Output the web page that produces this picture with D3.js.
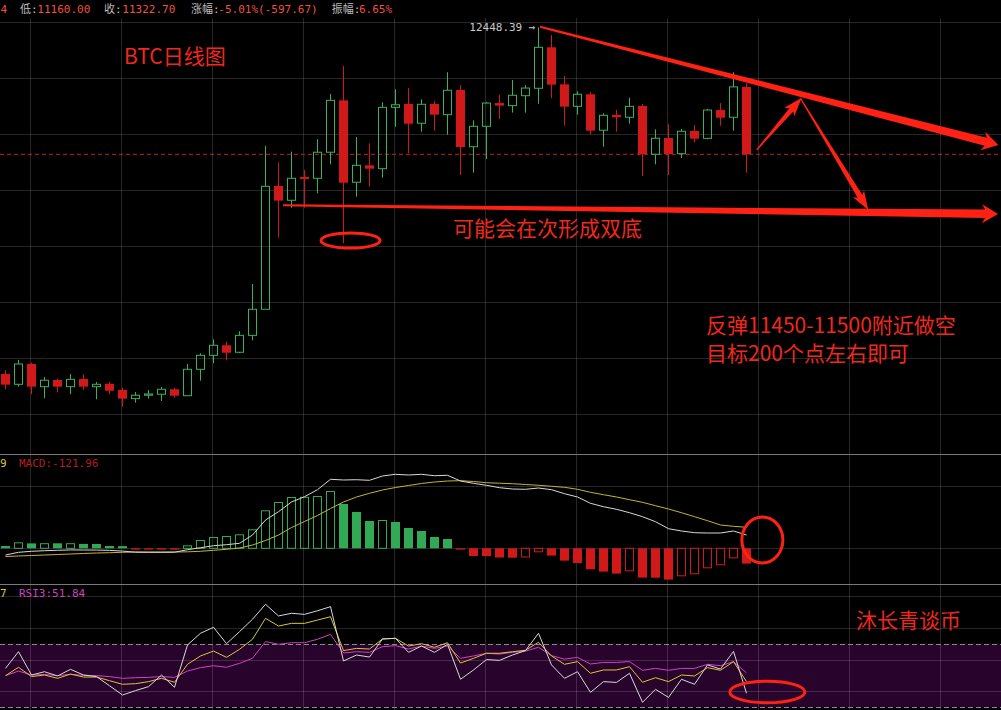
<!DOCTYPE html>
<html><head><meta charset="utf-8">
<script src="https://cdn.jsdelivr.net/npm/d3@7/dist/d3.min.js"></script>
<style>html,body{margin:0;padding:0;background:#000;overflow:hidden}</style>
</head><body>
<svg id="c" width="1001" height="710" xmlns="http://www.w3.org/2000/svg"></svg>
<script>
// ---------- DATA ----------
const opens  = [9375,9284,9464,9263,9322,9263,9331,9263,9289,9234,9157,9187,9196,9240,9183,9417,9541,9630,9568,9718,9949,11042,10915,11122,11110,11341,11801,11075,11225,11195,11739,11769,11598,11769,11674,11893,11390,11571,11777,11754,11842,11908,12271,11943,11748,11855,11536,11671,11651,11751,11323,11467,11328,11529,11464,11715,11651,11920.37];
const highs  = [9408,9500,9476,9349,9334,9375,9372,9305,9305,9254,9216,9234,9260,9251,9464,9559,9683,9662,9754,10173,11396,11248,11346,11184,11456,11857,12105,11476,11420,11784,11899,11910,11810,11795,12050,11937,11624,11786,11851,11981,11937,12448.39,12380,12017,11881,11875,11686,11718,11824,11768,11544,11589,11547,11582,11724,11777,12050,11952.7];
const lows   = [9240,9263,9196,9160,9213,9196,9234,9151,9196,9086,9121,9157,9136,9165,9183,9316,9470,9497,9559,9674,9949,10587,10849,10849,10977,11234,10534,10947,11036,11115,11567,11332,11523,11532,11497,11139,11160,11281,11636,11692,11692,11771,11819,11576,11674,11500,11390,11523,11594,11130,11234,11139,11290,11429,11455,11576,11532,11160];
const closes = [9281,9464,9263,9320,9263,9328,9263,9284,9227,9157,9187,9198,9240,9183,9417,9541,9630,9564,9718,9949,11039,10912,11110,11104,11341,11801,11071,11225,11195,11739,11762,11594,11766,11674,11890,11387,11571,11777,11754,11846,11910,12271,11940,11745,11855,11532,11668,11651,11748,11323,11465,11325,11527,11461,11715,11647,11920.37,11322.7];

const dif  = [-53.4,-31.9,-23.9,-19.1,-15.9,-13.0,-13.5,-14.0,-16.5,-22.0,-31.0,-32.0,-32.0,-31.0,-11.2,4.8,20.7,28.7,39.9,106.0,225.6,291.7,369.0,411.3,467.0,549.9,544.4,546.7,542.0,576.2,589.8,584.2,589.8,578.6,581.8,536.4,518.1,502.1,483.0,472.6,470.2,480.6,467.0,435.2,408.9,358.7,331.6,310.8,283.7,251.9,212.0,156.2,137.9,124.3,121.9,121.9,137.9,106.0];
const dea  = [-65.4,-61.4,-57.4,-53.4,-49.4,-45.4,-41.4,-37.5,-35.1,-31.9,-29.5,-29.5,-29.5,-29.5,-27.9,-23.9,-15.9,-8.0,2.4,26.3,62.2,106.0,165.8,213.6,261.4,317.2,369.0,408.9,438.4,464.7,484.6,500.5,516.5,528.4,536.4,538.8,532.4,522.8,518.8,514.9,508.5,502.1,494.1,486.2,470.2,446.3,427.2,408.9,387.3,366.6,339.5,313.2,283.7,251.9,220.0,185.7,175.3,167.4];
const macd = [18.3,47.8,39.1,40.6,39.9,40.6,35.1,34.3,18.3,17.5,-10.4,-10.6,-10.8,-11.0,23.9,66.2,90.1,98.0,111.6,151.4,302.9,369.0,408.9,410.5,416.8,456.7,353.1,289.3,217.6,225.6,209.6,161.8,137.9,90.1,74.1,-10.4,-61.4,-62.2,-73.3,-74.9,-73.3,-31.9,-58.2,-98.0,-117.2,-167.4,-185.7,-201.6,-183.3,-233.5,-234.3,-249.5,-223.2,-207.2,-159.4,-135.5,-79.7,-121.96];

const rsi1 = [54.7,65.3,50.5,52.6,49.9,54.1,50.5,49.5,43.7,37.8,40.6,43.1,50.5,42.7,69.6,77.0,80.8,70.4,78.0,85.9,95.4,88.0,89.7,89.0,91.3,93.9,59.4,63.2,61.9,73.4,73.8,64.9,68.9,64.9,70.0,47.8,53.7,60.3,59.8,63.2,66.0,77.0,56.9,48.4,52.6,39.5,46.3,45.8,51.6,33.2,41.4,36.3,47.8,44.6,56.9,54.3,65.5,38.9];
const rsi2 = [50.1,55.4,49.5,50.5,48.4,51.1,49.2,49.2,46.9,44.6,45.0,46.3,48.4,45.9,57.3,62.6,65.7,61.7,66.8,73.2,86.5,81.6,83.3,83.3,85.4,87.5,66.0,67.4,67.0,73.4,73.8,68.9,70.4,68.1,71.0,58.1,61.1,64.3,64.3,65.3,66.2,71.3,62.6,57.3,59.0,51.6,53.7,53.7,55.8,45.9,48.8,46.3,50.5,49.9,55.2,53.5,59.0,46.3];
const rsi3 = [50.1,53.0,50.5,50.9,50.1,50.9,50.3,50.1,49.5,48.4,48.8,49.0,49.5,49.0,53.0,55.2,56.4,55.4,57.9,61.1,71.7,70.0,71.0,71.0,73.2,76.3,64.5,65.3,64.9,68.5,69.1,67.0,68.9,67.4,68.9,61.1,62.6,64.3,63.8,64.9,65.7,68.1,62.8,60.6,61.7,57.5,58.5,58.5,59.0,53.5,54.7,53.5,54.7,54.7,57.3,56.4,59.0,51.84];

const infoLabels = ["4","低:","11160.00","收:","11322.70","涨幅:","-5.01%(-597.67)","振幅:","6.65%"];
const macdLabels = ["9","MACD:-121.96"];
const rsiLabels  = ["7","RSI3:51.84"];
const highLabel  = "12448.39 →";
const rsiBand = [30, 70];
const closeLine = 11322.7;

// annotations in data space: [candle index, value]
const trendTop    = [[41.12, 12453.7], [76.37, 11405.2]];
const trendBottom = [[21.35, 10870.7], [76.35, 10793.6]];
const arrowUp     = [[57.78, 11360.8], [61.25, 11824.4]];
const arrowDown   = [[61.15, 11819.1], [66.37, 10829.0]];
const ellipsePrice = [26.54, 10558.7];
const circleMacd   = [58.22, 66.2];
const ellipseRsi   = [58.6, 39.7];
const notes = ["BTC日线图","可能会在次形成双底","反弹11450-11500附近做空","目标200个点左右即可","沐长青谈币"];

// ---------- DRAW ----------
const svg = d3.select('#c');
const W = 1001, H = 710;
const RED = "#d21919", GREEN = "#3cb05a", ANN = "#ff2214", TXT = "#f0281c";

const x  = d3.scaleLinear().domain([0, 57]).range([5.5, 746.5]);
const yP = d3.scaleLinear().domain([8666.2, 12690.4]).range([454, 0]);
const yM = d3.scaleLinear().domain([-284.5, 751.6]).range([584, 454]);
const yR = d3.scaleLinear().domain(rsiBand).range([707.3, 644.3]);

svg.append('rect').attr('width', W).attr('height', H).attr('fill', '#000');

// RSI band
svg.append('rect').attr('x', 0).attr('width', W)
  .attr('y', yR(70)).attr('height', yR(30) - yR(70)).attr('fill', '#28032c');

// grid
const grid = svg.append('g').attr('stroke', 'rgba(255,255,255,0.15)').attr('stroke-width', 1);
const hGrid = [22.5,78.5,134.5,190.5,246.5,302.5,358.5,414.5, 486.5,548.5, 596.5,628.5,660.5,691.5];
hGrid.forEach(y => grid.append('line').attr('x1', 0).attr('x2', W).attr('y1', y).attr('y2', y));
d3.range(2, 80, 7).forEach(i => {
  const xx = x(i) - 1; if (xx > W) return;
  grid.append('line').attr('x1', xx).attr('x2', xx).attr('y1', 18).attr('y2', H);
});

// panel separators
[454.5, 584.5].forEach(y => svg.append('line').attr('x1', 0).attr('x2', W).attr('y1', y).attr('y2', y)
  .attr('stroke', '#7a7a7a').attr('stroke-width', 1));

// RSI band dashed borders
rsiBand.forEach(v => svg.append('line').attr('x1', 0).attr('x2', W).attr('y1', Math.round(yR(v)) + 0.5).attr('y2', Math.round(yR(v)) + 0.5)
  .attr('stroke', '#8a8a8a').attr('stroke-dasharray', '5,3'));

// close dashed line
svg.append('line').attr('x1', 0).attr('x2', W).attr('y1', yP(closeLine)).attr('y2', yP(closeLine))
  .attr('stroke', '#c81e1e').attr('stroke-dasharray', '4,3');

// candles
const cg = svg.append('g');
opens.forEach((o, i) => {
  const c = closes[i], hi = highs[i], lo = lows[i], cx = x(i);
  const up = c >= o;
  const top = yP(Math.max(o, c)), bot = yP(Math.min(o, c));
  if (up) {
    cg.append('line').attr('x1', cx).attr('x2', cx).attr('y1', yP(hi)).attr('y2', top).attr('stroke', GREEN);
    cg.append('line').attr('x1', cx).attr('x2', cx).attr('y1', bot).attr('y2', yP(lo)).attr('stroke', GREEN);
    cg.append('rect').attr('x', cx - 4).attr('y', top).attr('width', 8).attr('height', Math.max(1, bot - top))
      .attr('fill', 'none').attr('stroke', GREEN).attr('stroke-width', 1);
  } else {
    cg.append('line').attr('x1', cx).attr('x2', cx).attr('y1', yP(hi)).attr('y2', yP(lo)).attr('stroke', RED);
    cg.append('rect').attr('x', cx - 4.5).attr('y', top).attr('width', 9).attr('height', Math.max(1.5, bot - top))
      .attr('fill', RED);
  }
});

// high label
svg.append('text').attr('x', x(41) - 3).attr('y', yP(12448.39) + 4).attr('text-anchor', 'end')
  .attr('font-family', 'DejaVu Sans Mono, monospace').attr('font-size', 11).attr('fill', '#c8c8c8').text(highLabel);

// MACD histogram
const mg = svg.append('g');
macd.forEach((v, i) => {
  const cx = x(i), pos = v >= 0, col = pos ? "#32aa55" : RED;
  const hollow = i > 0 && v > macd[i - 1];
  const t = yM(Math.max(v, 0)), b = yM(Math.min(v, 0));
  if (hollow) {
    mg.append('rect').attr('x', cx - 4).attr('y', pos ? t + 0.5 : t).attr('width', 8).attr('height', Math.max(0.5, b - t - 0.5))
      .attr('fill', 'none').attr('stroke', col).attr('stroke-width', 1);
  } else {
    mg.append('rect').attr('x', cx - 4.5).attr('y', t).attr('width', 9).attr('height', Math.max(1.2, b - t)).attr('fill', col);
  }
});
const lineM = d3.line().x((d, i) => x(i)).y(d => yM(d));
svg.append('path').attr('d', lineM(dea)).attr('fill', 'none').attr('stroke', '#c8b432').attr('stroke-width', 1);
svg.append('path').attr('d', lineM(dif)).attr('fill', 'none').attr('stroke', '#d8d8d8').attr('stroke-width', 1);

// RSI lines
svg.append('clipPath').attr('id', 'rc').append('rect').attr('x', 0).attr('y', 585).attr('width', W).attr('height', 125);
const lineR = d3.line().x((d, i) => x(i)).y(d => yR(d));
const rg = svg.append('g').attr('clip-path', 'url(#rc)');
rg.append('path').attr('d', lineR(rsi3)).attr('fill', 'none').attr('stroke', '#d040c8').attr('stroke-width', 1);
rg.append('path').attr('d', lineR(rsi2)).attr('fill', 'none').attr('stroke', '#d8c832').attr('stroke-width', 1);
rg.append('path').attr('d', lineR(rsi1)).attr('fill', 'none').attr('stroke', '#d8d8d8').attr('stroke-width', 1);

// info bar
const mono = 'DejaVu Sans Mono, "Noto Sans CJK SC", monospace';
const infoX = [0.5, 20, 37.3, 104, 122.3, 191, 218.3, 331.7, 359];
infoLabels.forEach((t, i) => svg.append('text').attr('x', infoX[i]).attr('y', 12.5)
  .attr('font-family', mono).attr('font-size', 11).attr('fill', i % 2 === 0 ? '#f0503c' : '#bdbdbd').text(t));
svg.append('text').attr('x', 0).attr('y', 467).attr('font-family', mono).attr('font-size', 11).attr('fill', '#d8c830').text(macdLabels[0]);
svg.append('text').attr('x', 19).attr('y', 467).attr('font-family', mono).attr('font-size', 11).attr('fill', '#b41e1e').text(macdLabels[1]);
svg.append('text').attr('x', 0).attr('y', 597).attr('font-family', mono).attr('font-size', 11).attr('fill', '#d8c830').text(rsiLabels[0]);
svg.append('text').attr('x', 19).attr('y', 597).attr('font-family', mono).attr('font-size', 11).attr('fill', '#d040c0').text(rsiLabels[1]);

// annotations
function arrowPts(x1, y1, x2, y2, w1, w2, hl, hw) {
  const dx = x2 - x1, dy = y2 - y1, L = Math.hypot(dx, dy), ux = dx / L, uy = dy / L, nx = -uy, ny = ux;
  const bx = x2 - ux * hl, by = y2 - uy * hl;
  const kx = bx - ux * 3, ky = by - uy * 3;
  return [[x1 + nx * w1 / 2, y1 + ny * w1 / 2], [bx + nx * w2 / 2, by + ny * w2 / 2], [kx + nx * hw / 2, ky + ny * hw / 2], [x2, y2],
          [kx - nx * hw / 2, ky - ny * hw / 2], [bx - nx * w2 / 2, by - ny * w2 / 2], [x1 - nx * w1 / 2, y1 - ny * w1 / 2]];
}
function drawArrow(seg, yS, w1, w2, hl, hw) {
  const p = arrowPts(x(seg[0][0]), yS(seg[0][1]), x(seg[1][0]), yS(seg[1][1]), w1, w2, hl, hw);
  svg.append('polygon').attr('points', p.map(d => d.join(',')).join(' ')).attr('fill', ANN);
}
drawArrow(trendTop, yP, 2, 8.5, 13, 19);
drawArrow(trendBottom, yP, 2, 8.5, 13, 19);
drawArrow(arrowUp, yP, 1.2, 5, 16, 13);
drawArrow(arrowDown, yP, 1.2, 5.5, 16, 13);

svg.append('ellipse').attr('cx', x(ellipsePrice[0])).attr('cy', yP(ellipsePrice[1])).attr('rx', 29.5).attr('ry', 7.6)
  .attr('fill', 'none').attr('stroke', ANN).attr('stroke-width', 3);
svg.append('ellipse').attr('cx', x(circleMacd[0])).attr('cy', yM(circleMacd[1])).attr('rx', 20.5).attr('ry', 23)
  .attr('fill', 'none').attr('stroke', ANN).attr('stroke-width', 3);
svg.append('ellipse').attr('cx', x(ellipseRsi[0])).attr('cy', yR(ellipseRsi[1])).attr('rx', 37.5).attr('ry', 10.8)
  .attr('fill', 'none').attr('stroke', ANN).attr('stroke-width', 3);

const noteXY = [[124, 63.5], [453, 235.5], [706, 332.5], [706, 360.5], [856, 628]];
notes.forEach((t, i) => svg.append('text').attr('x', noteXY[i][0]).attr('y', noteXY[i][1])
  .attr('font-family', '"Noto Sans CJK SC", sans-serif').attr('font-size', 21).attr('fill', TXT).text(t));
</script>
</body></html>
